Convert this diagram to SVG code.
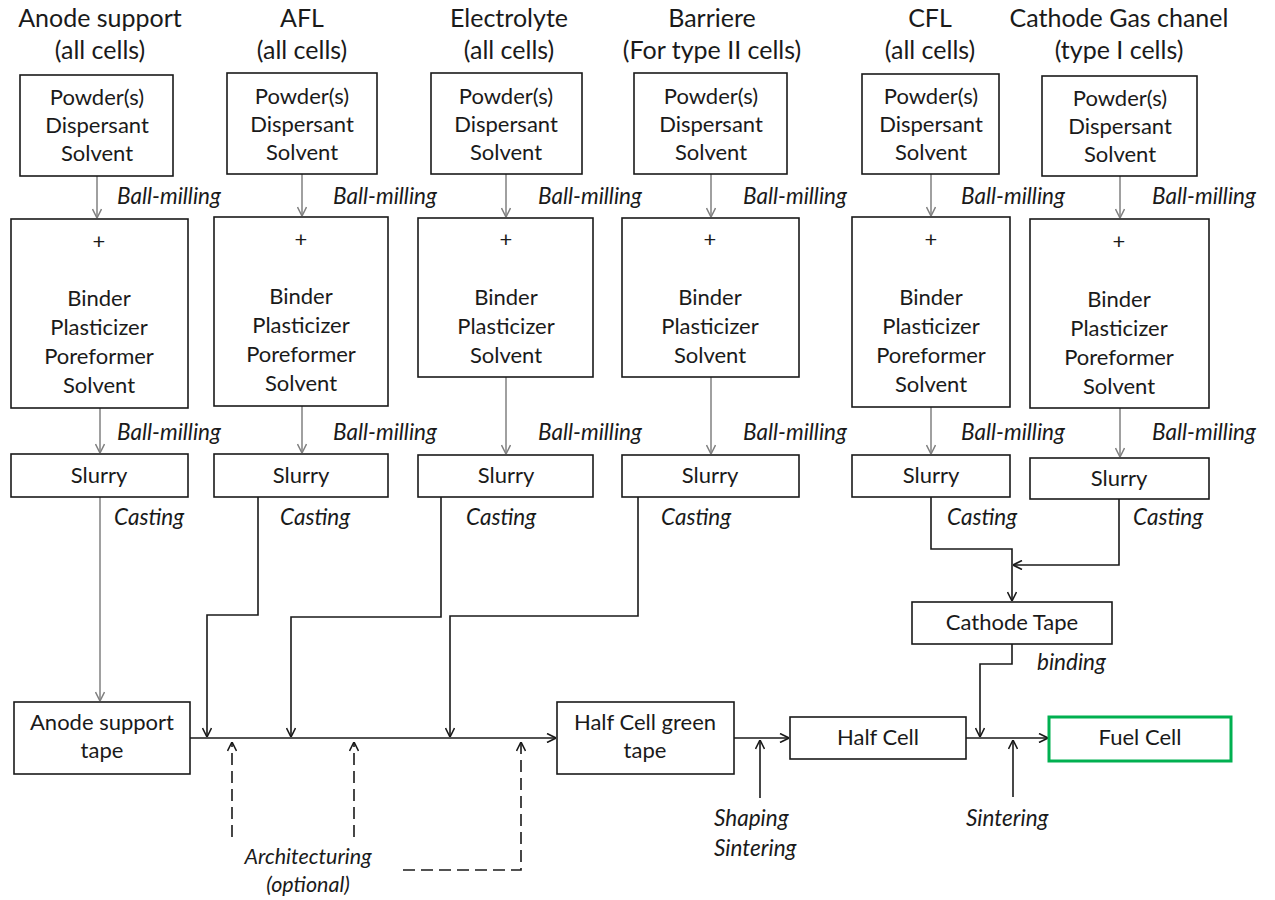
<svg xmlns="http://www.w3.org/2000/svg" width="1275" height="900" viewBox="0 0 1275 900">
<defs>
<style>
text{font-family:Lato,"Open Sans","Liberation Sans",sans-serif;fill:#1a1a1a}
.t{font-size:25px;text-anchor:middle}
.b{font-size:22px;text-anchor:middle}
.i{font-size:22.5px;font-style:italic}
.im{font-size:21.5px;font-style:italic;text-anchor:middle}
.box{fill:#fff;stroke:#1a1a1a;stroke-width:1.6}
.green{fill:#fff;stroke:#00b050;stroke-width:3}
.g{fill:none;stroke:#808080;stroke-width:1.5;marker-end:url(#ag)}
.k{fill:none;stroke:#1a1a1a;stroke-width:1.6;marker-end:url(#ak)}
.d{fill:none;stroke:#1a1a1a;stroke-width:1.6;stroke-dasharray:12 6;marker-end:url(#ak)}
</style>
<marker id="ag" viewBox="0 0 10 10" refX="10" refY="5" markerWidth="10" markerHeight="10" markerUnits="userSpaceOnUse" orient="auto"><path d="M1,0.5 L10,5 L1,9.5" fill="none" stroke="#808080" stroke-width="1.5"/></marker>
<marker id="ak" viewBox="0 0 10 10" refX="10" refY="5" markerWidth="10" markerHeight="10" markerUnits="userSpaceOnUse" orient="auto"><path d="M1,0.5 L10,5 L1,9.5" fill="none" stroke="#1a1a1a" stroke-width="1.6"/></marker>
</defs>
<rect width="1275" height="900" fill="#fff"/>

<g id="titles">
<text class="t" x="100" y="27">Anode support</text><text class="t" x="100" y="59">(all cells)</text>
<text class="t" x="302" y="27">AFL</text><text class="t" x="302" y="59">(all cells)</text>
<text class="t" x="509" y="27">Electrolyte</text><text class="t" x="509" y="59">(all cells)</text>
<text class="t" x="712" y="27">Barriere</text><text class="t" x="712" y="59">(For type II cells)</text>
<text class="t" x="930" y="27">CFL</text><text class="t" x="930" y="59">(all cells)</text>
<text class="t" x="1119" y="27">Cathode Gas chanel</text><text class="t" x="1119" y="59">(type I cells)</text>
</g>

<g id="connectors">
<path class="g" d="M97,176 V218"/>
<path class="g" d="M302,174 V216"/>
<path class="g" d="M506,174 V217"/>
<path class="g" d="M711,174 V217"/>
<path class="g" d="M931,174 V216"/>
<path class="g" d="M1120,176 V218"/>
<path class="g" d="M100,408 V453"/>
<path class="g" d="M302,406 V453"/>
<path class="g" d="M506,377 V454"/>
<path class="g" d="M711,377 V454"/>
<path class="g" d="M931,407 V454"/>
<path class="g" d="M1120,408 V457"/>
<path class="g" d="M100,497 V701"/>
<path class="k" d="M258,497 V615 H207 V737"/>
<path class="k" d="M441,497 V617 H291 V737"/>
<path class="k" d="M638,497 V616 H450 V737"/>
<path class="k" d="M190,738 H556"/>
<path class="d" d="M232,837 V742"/>
<path class="d" d="M354,837 V742"/>
<path class="d" d="M403,870 H521 V742"/>
<path class="k" d="M734,738 H789"/>
<path class="k" d="M760,798 V740"/>
<path class="k" d="M966,738 H1048"/>
<path class="k" d="M1013,797 V740"/>
<path class="k" d="M931,497 V549 H1012 V601"/>
<path class="k" d="M1119,499 V565 H1013"/>
<path class="k" d="M1012,644 V664 H980 V737"/>
</g>

<g id="labels">
<text class="i" x="117" y="204">Ball-milling</text>
<text class="i" x="333" y="204">Ball-milling</text>
<text class="i" x="538" y="204">Ball-milling</text>
<text class="i" x="743" y="204">Ball-milling</text>
<text class="i" x="961" y="204">Ball-milling</text>
<text class="i" x="1152" y="204">Ball-milling</text>
<text class="i" x="117" y="440">Ball-milling</text>
<text class="i" x="333" y="440">Ball-milling</text>
<text class="i" x="538" y="440">Ball-milling</text>
<text class="i" x="743" y="440">Ball-milling</text>
<text class="i" x="961" y="440">Ball-milling</text>
<text class="i" x="1152" y="440">Ball-milling</text>
<text class="i" x="114" y="525">Casting</text>
<text class="i" x="280" y="525">Casting</text>
<text class="i" x="466" y="525">Casting</text>
<text class="i" x="661" y="525">Casting</text>
<text class="i" x="947" y="525">Casting</text>
<text class="i" x="1133" y="525">Casting</text>
<text class="i" x="1037" y="670">binding</text>
<text class="i" x="714" y="826">Shaping</text>
<text class="i" x="714" y="856">Sintering</text>
<text class="i" x="966" y="826">Sintering</text>
<text class="im" x="308" y="864">Architecturing</text>
<text class="im" x="308" y="892">(optional)</text>
</g>

<g id="powder-anode"><rect class="box" x="20" y="75" width="153" height="101"/><text class="b" x="97" y="105">Powder(s)</text><text class="b" x="97" y="133">Dispersant</text><text class="b" x="97" y="161">Solvent</text></g>
<g id="powder-afl"><rect class="box" x="227" y="73" width="150" height="101"/><text class="b" x="302" y="104">Powder(s)</text><text class="b" x="302" y="132">Dispersant</text><text class="b" x="302" y="160">Solvent</text></g>
<g id="powder-electrolyte"><rect class="box" x="431" y="73" width="151" height="101"/><text class="b" x="506" y="104">Powder(s)</text><text class="b" x="506" y="132">Dispersant</text><text class="b" x="506" y="160">Solvent</text></g>
<g id="powder-barriere"><rect class="box" x="634" y="73" width="153" height="101"/><text class="b" x="711" y="104">Powder(s)</text><text class="b" x="711" y="132">Dispersant</text><text class="b" x="711" y="160">Solvent</text></g>
<g id="powder-cfl"><rect class="box" x="862" y="74" width="137" height="100"/><text class="b" x="931" y="104">Powder(s)</text><text class="b" x="931" y="132">Dispersant</text><text class="b" x="931" y="160">Solvent</text></g>
<g id="powder-cgc"><rect class="box" x="1042" y="76" width="155" height="100"/><text class="b" x="1120" y="106">Powder(s)</text><text class="b" x="1120" y="134">Dispersant</text><text class="b" x="1120" y="162">Solvent</text></g>

<g id="binder-anode"><rect class="box" x="11" y="219" width="177" height="189"/><text class="b" x="99" y="249">+</text><text class="b" x="99" y="306">Binder</text><text class="b" x="99" y="335">Plasticizer</text><text class="b" x="99" y="364">Poreformer</text><text class="b" x="99" y="393">Solvent</text></g>
<g id="binder-afl"><rect class="box" x="214" y="217" width="174" height="189"/><text class="b" x="301" y="247">+</text><text class="b" x="301" y="304">Binder</text><text class="b" x="301" y="333">Plasticizer</text><text class="b" x="301" y="362">Poreformer</text><text class="b" x="301" y="391">Solvent</text></g>
<g id="binder-electrolyte"><rect class="box" x="418" y="218" width="175" height="159"/><text class="b" x="506" y="247">+</text><text class="b" x="506" y="305">Binder</text><text class="b" x="506" y="334">Plasticizer</text><text class="b" x="506" y="363">Solvent</text></g>
<g id="binder-barriere"><rect class="box" x="622" y="218" width="177" height="159"/><text class="b" x="710" y="247">+</text><text class="b" x="710" y="305">Binder</text><text class="b" x="710" y="334">Plasticizer</text><text class="b" x="710" y="363">Solvent</text></g>
<g id="binder-cfl"><rect class="box" x="852" y="217" width="158" height="190"/><text class="b" x="931" y="247">+</text><text class="b" x="931" y="305">Binder</text><text class="b" x="931" y="334">Plasticizer</text><text class="b" x="931" y="363">Poreformer</text><text class="b" x="931" y="392">Solvent</text></g>
<g id="binder-cgc"><rect class="box" x="1030" y="219" width="179" height="189"/><text class="b" x="1119" y="249">+</text><text class="b" x="1119" y="307">Binder</text><text class="b" x="1119" y="336">Plasticizer</text><text class="b" x="1119" y="365">Poreformer</text><text class="b" x="1119" y="394">Solvent</text></g>

<g id="slurry-anode"><rect class="box" x="11" y="454" width="177" height="43"/><text class="b" x="99" y="483">Slurry</text></g>
<g id="slurry-afl"><rect class="box" x="214" y="454" width="174" height="43"/><text class="b" x="301" y="483">Slurry</text></g>
<g id="slurry-electrolyte"><rect class="box" x="418" y="455" width="175" height="42"/><text class="b" x="506" y="483">Slurry</text></g>
<g id="slurry-barriere"><rect class="box" x="622" y="455" width="177" height="42"/><text class="b" x="710" y="483">Slurry</text></g>
<g id="slurry-cfl"><rect class="box" x="852" y="455" width="158" height="42"/><text class="b" x="931" y="483">Slurry</text></g>
<g id="slurry-cgc"><rect class="box" x="1030" y="458" width="179" height="41"/><text class="b" x="1119" y="486">Slurry</text></g>

<g id="cathode-tape"><rect class="box" x="912" y="602" width="200" height="42"/><text class="b" x="1012" y="630">Cathode Tape</text></g>
<g id="anode-support-tape"><rect class="box" x="14" y="702" width="176" height="72"/><text class="b" x="102" y="730">Anode support</text><text class="b" x="102" y="758">tape</text></g>
<g id="half-cell-green-tape"><rect class="box" x="557" y="702" width="177" height="72"/><text class="b" x="645" y="730">Half Cell green</text><text class="b" x="645" y="758">tape</text></g>
<g id="half-cell"><rect class="box" x="790" y="717" width="176" height="42"/><text class="b" x="878" y="745">Half Cell</text></g>
<g id="fuel-cell"><rect class="green" x="1049" y="717" width="182" height="44"/><text class="b" x="1140" y="745">Fuel Cell</text></g>
</svg>
